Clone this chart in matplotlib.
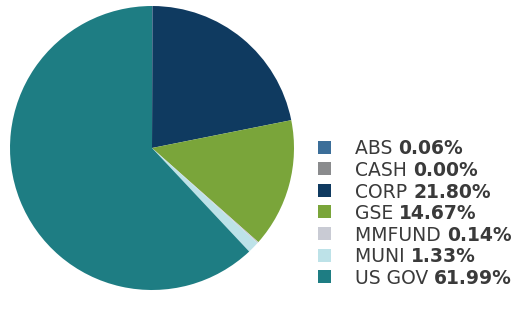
import matplotlib
matplotlib.use("Agg")
import matplotlib.pyplot as plt
from matplotlib.patches import Rectangle

categories = ["ABS", "CASH", "CORP", "GSE", "MMFUND", "MUNI", "US GOV"]
weights = [0.06, 0.00, 21.80, 14.67, 0.14, 1.33, 61.99]
colors = ["#3b6e99", "#8a8b8d", "#0f3a60", "#7aa53a", "#c9cbd4", "#bde2e8", "#1e7d83"]

W, H = 525, 320
fig = plt.figure(figsize=(W / 100, H / 100), dpi=100)

cx, cy, r = 152, 148, 142
ax = fig.add_axes([(cx - r) / W, (H - cy - r) / H, 2 * r / W, 2 * r / H])
ax.pie(weights, colors=colors, startangle=90, counterclock=False,
       wedgeprops=dict(linewidth=0))
ax.set_xlim(-1, 1)
ax.set_ylim(-1, 1)
ax.set_aspect("equal")
ax.axis("off")

fig.canvas.draw()
renderer = fig.canvas.get_renderer()

row0, step = 147, 21.6
fs = 13.5
for i, (cat, val, col) in enumerate(zip(categories, weights, colors)):
    y = row0 + i * step
    fig.patches.append(Rectangle((318 / W, (H - y - 6.5) / H), 13 / W, 13 / H,
                                 transform=fig.transFigure, facecolor=col,
                                 edgecolor="none"))
    t = fig.text(355 / W, (H - y) / H, cat + " ", fontsize=fs, color="#3a3a3a",
                 va="center_baseline", ha="left", family="DejaVu Sans")
    bb = t.get_window_extent(renderer)
    fig.text(bb.x1 / W, (H - y) / H, f"{val:.2f}%", fontsize=fs, color="#3a3a3a",
             va="center_baseline", ha="left", fontweight="bold", family="DejaVu Sans")

fig.savefig("out.png", dpi=100)
